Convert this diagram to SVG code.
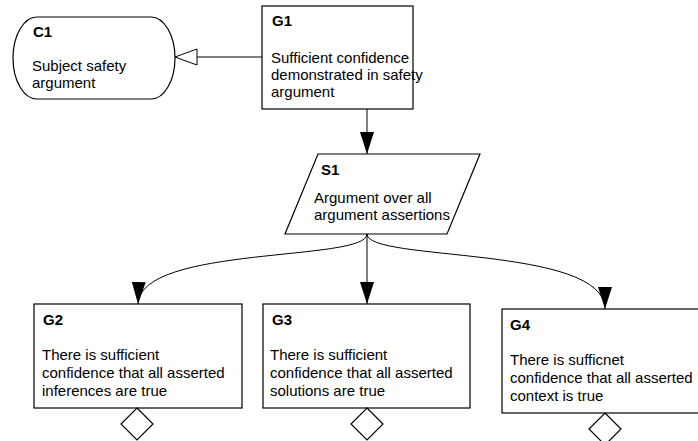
<svg xmlns="http://www.w3.org/2000/svg" width="698" height="441" viewBox="0 0 698 441">
  <style>
    .shape { fill: #ffffff; stroke: #000000; stroke-width: 1.2; }
    .link { fill: none; stroke: #000000; stroke-width: 1; }
    .id { font-family: "Liberation Sans", Arial, sans-serif; font-size: 15px; font-weight: bold; fill: #000000; }
    .body { font-family: "Liberation Sans", Arial, sans-serif; font-size: 15px; fill: #000000; }
  </style>
  <defs>
    <marker id="solidArrow" markerUnits="userSpaceOnUse" markerWidth="22" markerHeight="16" refX="22" refY="7" orient="auto">
      <path d="M0,0 L22,7 L0,14 Z" fill="#000000"/>
    </marker>
  </defs>

  <rect width="698" height="441" fill="#ffffff"/>

  <!-- connectors -->
  <g id="connectors">
    <!-- G1 in context of C1 -->
    <line class="link" x1="262" y1="57" x2="197" y2="57"/>
    <polygon points="175,57 197,49 197,65" fill="#ffffff" stroke="#000000" stroke-width="1"/>
    <!-- G1 solved by S1 -->
    <line class="link" x1="367" y1="109" x2="367" y2="154" marker-end="url(#solidArrow)"/>
    <!-- S1 to sub-goals -->
    <path class="link" d="M367,234 C367,262 140,245 138,304" marker-end="url(#solidArrow)"/>
    <line class="link" x1="367" y1="234" x2="367" y2="304" marker-end="url(#solidArrow)"/>
    <path class="link" d="M367,234 C367,262 605,245 605,309" marker-end="url(#solidArrow)"/>
  </g>

  <!-- context -->
  <g id="C1">
    <rect class="shape" x="13" y="17" width="162" height="82" rx="24" ry="41"/>
    <text class="id" x="33" y="37">C1</text>
    <text class="body" x="32" y="71">Subject safety</text>
    <text class="body" x="32" y="88">argument</text>
  </g>

  <!-- top goal -->
  <g id="G1">
    <rect class="shape" x="262" y="6" width="151" height="103"/>
    <text class="id" x="272" y="26">G1</text>
    <text class="body" x="271" y="63">Sufficient confidence</text>
    <text class="body" x="271" y="80">demonstrated in safety</text>
    <text class="body" x="271" y="97">argument</text>
  </g>

  <!-- strategy -->
  <g id="S1">
    <polygon class="shape" points="318,154 480,154 447,234 285,234"/>
    <text class="id" x="321" y="175">S1</text>
    <text class="body" x="314" y="203">Argument over all</text>
    <text class="body" x="314" y="220">argument assertions</text>
  </g>

  <!-- sub-goals -->
  <g id="G2">
    <rect class="shape" x="34" y="304" width="208" height="104"/>
    <text class="id" x="43" y="325">G2</text>
    <text class="body" x="42" y="360">There is sufficient</text>
    <text class="body" x="42" y="378">confidence that all asserted</text>
    <text class="body" x="42" y="396">inferences are true</text>
    <polygon class="shape" points="137,408 153,424 137,440 121,424"/>
  </g>

  <g id="G3">
    <rect class="shape" x="263" y="304" width="207" height="104"/>
    <text class="id" x="272" y="325">G3</text>
    <text class="body" x="270" y="360">There is sufficient</text>
    <text class="body" x="270" y="378">confidence that all asserted</text>
    <text class="body" x="270" y="396">solutions are true</text>
    <polygon class="shape" points="367,408 383,424 367,440 351,424"/>
  </g>

  <g id="G4">
    <rect class="shape" x="502" y="309" width="200" height="104"/>
    <text class="id" x="510" y="330">G4</text>
    <text class="body" x="510" y="365">There is sufficnet</text>
    <text class="body" x="510" y="383">confidence that all asserted</text>
    <text class="body" x="510" y="401">context is true</text>
    <polygon class="shape" points="605,413 621,429 605,445 589,429"/>
  </g>
</svg>
